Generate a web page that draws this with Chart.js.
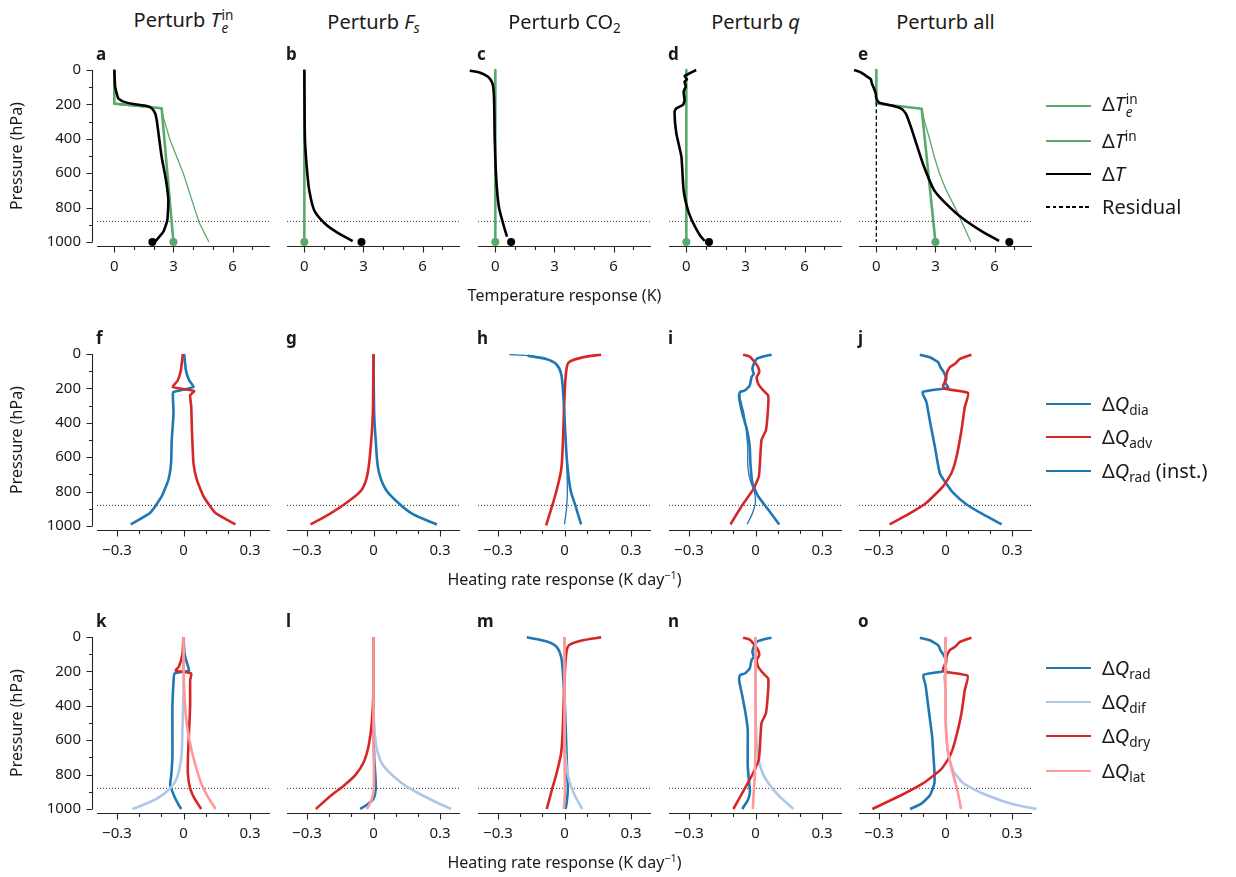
<!DOCTYPE html>
<html><head><meta charset="utf-8">
<script src="https://cdn.jsdelivr.net/npm/chart.js@4/dist/chart.umd.min.js"></script>
<style>
html,body{margin:0;padding:0;background:#fff;}
#root{position:relative;width:1236px;height:877px;overflow:hidden;font-family:"Noto Sans",sans-serif;color:#1a1a1a;}
#root canvas{position:absolute;}
.t{position:absolute;white-space:nowrap;line-height:1;}
.title{font-size:20px;transform:translate(-50%,-50%);}
.letter{font-size:17px;font-weight:bold;transform:translateY(-50%);}
.xlab{font-size:16px;transform:translate(-50%,-50%);}
.ylab{font-size:16px;transform:translate(-50%,-50%) rotate(-90deg);}
.leg{font-size:20px;transform:translateY(-50%);}
.sw{position:absolute;}
sub{font-size:0.68em;vertical-align:-0.28em;line-height:0;}
sup{font-size:0.68em;vertical-align:0.55em;line-height:0;}
.ss{display:inline-block;vertical-align:-0.42em;line-height:0.95;font-size:0.68em;margin-left:1px;}
.ss span{display:block;}
</style></head>
<body><div id="root"></div>
<script>
// ---------------- DATA (pressure in hPa, responses) ----------------
const pressureTicks = [0, 200, 400, 600, 800, 1000];
const tempTicks = [0, 3, 6];
const heatTicks = [-0.3, 0, 0.3];
const tempRange = [-0.88, 7.9];
const heatRange = [-0.39, 0.39];
const refPressure = 880;

// Row 1: temperature response (K)
const aTeP = [0, 200, 223, 300, 407, 500, 601, 700, 780, 888, 1000];
const aTeX = [0, 0, 2.36, 2.55, 2.83, 3.15, 3.5, 3.78, 4.0, 4.31, 4.8];
const aTiP = [0, 195, 222, 1000];
const aTiX = [0, 0, 2.4, 3.0];
const aTP = [0, 97, 165, 184, 198, 209, 223, 252, 291, 368, 504, 640, 756, 872, 940, 998];
const aTX = [0, 0.04, 0.2, 0.46, 0.96, 1.64, 1.9, 2.07, 2.15, 2.24, 2.4, 2.62, 2.74, 2.69, 2.49, 2.07];
const aSurf = [1.93, 3.0]; // ΔT, ΔT^in at surface

const bTiP = [0, 1000];
const bTiX = [0, 0];
const bTP = [0, 200, 400, 500, 600, 700, 815, 888, 940, 995];
const bTX = [0, 0.01, 0.03, 0.08, 0.15, 0.25, 0.5, 1.0, 1.6, 2.45];
const bSurf = [2.9, 0];

const cTiP = [0, 1000];
const cTiX = [0, 0];
const cTP = [0, 4, 14, 39, 77, 155, 407, 640, 795, 891, 969];
const cTX = [-1.66, -1.3, -0.8, -0.37, -0.15, -0.07, -0.03, 0.05, 0.18, 0.39, 0.59];
const cSurf = [0.8, 0];

const dTiP = [0, 1000];
const dTiX = [0, 0];
const dTP = [0, 19, 35, 54, 68, 97, 126, 174, 203, 223, 242, 368, 504, 698, 814, 888, 959, 994];
const dTX = [0.5, 0.17, -0.09, 0.03, -0.09, -0.03, -0.14, -0.09, -0.17, -0.51, -0.6, -0.51, -0.25, -0.14, 0.08, 0.34, 0.68, 0.93];
const dSurf = [1.15, 0];

const eTeP = [0, 195, 225, 300, 400, 500, 600, 700, 800, 900, 1000];
const eTeX = [0, 0, 2.3, 2.45, 2.7, 2.93, 3.2, 3.55, 4.0, 4.4, 4.8];
const eTiP = [0, 195, 225, 1000];
const eTiX = [0, 0, 2.3, 3.0];
const eTP = [0, 14, 39, 54, 78, 107, 136, 165, 190, 203, 223, 252, 329, 446, 562, 698, 775, 862, 940, 994];
const eTX = [-1.13, -0.79, -0.46, -0.28, -0.23, -0.12, -0.03, 0, 0.14, 0.64, 1.24, 1.49, 1.75, 2.08, 2.42, 2.93, 3.52, 4.37, 5.38, 6.23];
const eResP = [190, 1000];
const eResX = [0, 0];
const eSurf = [6.75, 3.0];

// Row 2: heating rate response (K/day): diabatic, advective, instantaneous radiative
const fDiaP = [0, 96, 154, 192, 221, 240, 346, 500, 635, 731, 827, 923, 991];
const fDiaX = [0.003, 0.011, 0.026, 0.045, -0.045, -0.048, -0.045, -0.053, -0.056, -0.068, -0.098, -0.15, -0.238];
const fAdvP = [0, 96, 154, 192, 216, 240, 308, 443, 635, 731, 827, 923, 991];
const fAdvX = [-0.003, -0.012, -0.026, -0.048, 0.048, 0.03, 0.035, 0.038, 0.045, 0.06, 0.09, 0.143, 0.234];

const gDiaP = [0, 346, 500, 673, 789, 875, 933, 991];
const gDiaX = [0, 0.003, 0.01, 0.022, 0.056, 0.12, 0.18, 0.286];
const gAdvP = [0, 346, 500, 692, 789, 865, 929, 991];
const gAdvX = [0, -0.003, -0.01, -0.026, -0.053, -0.122, -0.197, -0.284];

const hDiaP = [10, 29, 58, 116, 250, 443, 635, 789, 885, 991];
const hDiaX = [-0.166, -0.083, -0.038, -0.015, -0.005, 0.003, 0.012, 0.027, 0.05, 0.075];
const hAdvP = [4, 19, 48, 96, 250, 539, 673, 789, 885, 996];
const hAdvX = [0.165, 0.083, 0.02, 0.008, 0, -0.008, -0.015, -0.035, -0.056, -0.083];
const hRadP = [4, 10, 29, 58, 116, 250, 443, 635, 789, 885, 990];
const hRadX = [-0.249, -0.166, -0.083, -0.038, -0.015, -0.005, 0.003, 0.01, 0.013, 0.01, 0];

const iDiaP = [4, 15, 29, 58, 87, 116, 135, 183, 212, 221, 250, 346, 443, 539, 635, 750, 827, 904, 991];
const iDiaX = [0.072, 0.035, 0.005, -0.008, -0.014, -0.008, -0.018, -0.026, -0.048, -0.07, -0.074, -0.059, -0.038, -0.026, -0.023, -0.014, 0.012, 0.057, 0.107];
const iAdvP = [4, 15, 48, 77, 106, 135, 173, 212, 240, 308, 443, 500, 635, 712, 789, 885, 991];
const iAdvX = [-0.056, -0.026, -0.003, 0.012, 0.017, 0.005, 0.012, 0.035, 0.057, 0.057, 0.047, 0.027, 0.02, 0.015, -0.011, -0.063, -0.113];
const iRadP = [4, 15, 29, 58, 87, 116, 135, 183, 212, 221, 250, 346, 443, 539, 635, 700, 750, 800, 860, 930, 990];
const iRadX = [0.072, 0.035, 0.005, -0.008, -0.014, -0.008, -0.018, -0.026, -0.048, -0.07, -0.07, -0.052, -0.042, -0.035, -0.035, -0.03, -0.02, -0.005, 0.0, -0.015, -0.038];

const jDiaP = [4, 19, 48, 77, 106, 135, 164, 196, 221, 279, 385, 539, 692, 741, 808, 875, 933, 991];
const jDiaX = [-0.116, -0.071, -0.033, -0.023, -0.008, 0.001, -0.003, 0.012, -0.104, -0.086, -0.071, -0.048, -0.026, -0.003, 0.035, 0.095, 0.17, 0.253];
const jAdvP = [4, 29, 58, 77, 116, 154, 183, 202, 227, 308, 443, 596, 692, 770, 865, 933, 991];
const jAdvX = [0.117, 0.065, 0.042, 0.019, 0.005, 0.002, -0.011, -0.003, 0.102, 0.087, 0.072, 0.05, 0.027, -0.011, -0.086, -0.169, -0.252];

// Row 3: radiative, diffusive, dry, latent heating responses (K/day)
const kRadP = [0, 100, 170, 195, 212, 260, 400, 550, 700, 800, 860, 930, 980, 1000];
const kRadX = [0, 0.005, 0.02, 0.025, -0.04, -0.045, -0.05, -0.05, -0.05, -0.055, -0.06, -0.04, -0.02, -0.01];
const kDifP = [0, 300, 550, 700, 820, 880, 940, 975, 1000];
const kDifX = [0, 0, -0.005, -0.01, -0.03, -0.06, -0.12, -0.18, -0.23];
const kDryP = [0, 100, 170, 195, 212, 250, 400, 550, 700, 800, 880, 940, 1000];
const kDryX = [0, -0.005, -0.02, -0.035, 0.035, 0.03, 0.03, 0.025, 0.02, 0.02, 0.03, 0.05, 0.08];
const kLatP = [0, 150, 300, 450, 550, 650, 750, 850, 930, 1000];
const kLatX = [0, 0, 0.003, 0.01, 0.02, 0.035, 0.055, 0.08, 0.11, 0.145];

const lRadP = [0, 500, 700, 800, 880, 940, 975, 1000];
const lRadX = [0, 0, 0.003, 0.008, 0.01, 0.0, -0.03, -0.06];
const lDifP = [0, 400, 550, 650, 740, 810, 870, 920, 965, 1000];
const lDifX = [0, 0, 0.005, 0.015, 0.04, 0.09, 0.15, 0.22, 0.29, 0.35];
const lDryP = [0, 300, 450, 550, 650, 730, 800, 860, 920, 1000];
const lDryX = [0, 0, -0.005, -0.012, -0.025, -0.045, -0.08, -0.13, -0.19, -0.26];
const lLatP = [0, 600, 800, 900, 950, 1000];
const lLatX = [0, 0, 0.002, 0, -0.01, -0.03];

const mRadP = [2, 25, 55, 116, 250, 443, 635, 789, 885, 960, 1000];
const mRadX = [-0.17, -0.083, -0.038, -0.015, -0.005, 0.003, 0.008, 0.012, 0.015, 0.01, 0.005];
const mDifP = [0, 550, 700, 800, 870, 930, 1000];
const mDifX = [0, 0, 0.005, 0.015, 0.03, 0.05, 0.08];
const mDryP = [2, 19, 48, 96, 250, 539, 673, 789, 885, 1000];
const mDryX = [0.165, 0.083, 0.02, 0.008, 0, -0.008, -0.015, -0.035, -0.056, -0.08];
const mLatP = [0, 700, 900, 1000];
const mLatX = [0, 0, 0.002, -0.003];

const nRadP = [4, 15, 29, 58, 87, 116, 135, 183, 212, 221, 250, 346, 443, 539, 635, 750, 830, 900, 950, 1000];
const nRadX = [0.072, 0.035, 0.005, -0.008, -0.014, -0.008, -0.018, -0.026, -0.048, -0.07, -0.074, -0.059, -0.045, -0.035, -0.035, -0.035, -0.03, -0.025, -0.035, -0.06];
const nDifP = [0, 400, 600, 720, 800, 870, 930, 975, 1000];
const nDifX = [0, 0, 0.005, 0.015, 0.035, 0.07, 0.11, 0.15, 0.17];
const nDryP = [4, 15, 48, 77, 106, 135, 173, 212, 240, 308, 443, 500, 635, 712, 789, 885, 1000];
const nDryX = [-0.056, -0.026, -0.003, 0.012, 0.017, 0.005, 0.012, 0.035, 0.057, 0.057, 0.047, 0.027, 0.02, 0.015, -0.01, -0.05, -0.1];
const nLatP = [0, 600, 800, 900, 1000];
const nLatX = [0, 0, -0.003, -0.008, -0.012];

const oRadP = [4, 19, 48, 77, 106, 135, 164, 196, 221, 280, 380, 480, 580, 680, 780, 850, 920, 970, 1000];
const oRadX = [-0.116, -0.071, -0.033, -0.023, -0.008, 0.001, -0.003, 0.0, -0.1, -0.09, -0.08, -0.07, -0.06, -0.055, -0.05, -0.05, -0.07, -0.11, -0.16];
const oDifP = [0, 180, 205, 225, 300, 450, 600, 700, 780, 850, 900, 950, 980, 1000];
const oDifX = [0, 0, 0.01, -0.005, 0, 0, 0.005, 0.015, 0.035, 0.08, 0.15, 0.25, 0.33, 0.41];
const oDryP = [4, 29, 58, 77, 116, 154, 183, 202, 225, 308, 443, 596, 692, 770, 850, 920, 1000];
const oDryX = [0.117, 0.065, 0.042, 0.019, 0.005, 0.002, -0.011, -0.003, 0.1, 0.087, 0.072, 0.045, 0.02, -0.02, -0.1, -0.2, -0.33];
const oLatP = [0, 400, 550, 650, 750, 850, 930, 1000];
const oLatX = [0, 0, 0.003, 0.01, 0.025, 0.045, 0.06, 0.07];

// ---------------- STYLE / LAYOUT ----------------
const GREEN = '#5aa96a', BLUE = '#1f77b4', RED = '#d62728', LBLUE = '#aec7e8', PINK = '#ff9896', BLACK = '#000';
const THICK = 2.6, THIN = 1.3;
const COL_L = [97, 287, 478, 669, 859];
const ROW_T = [70, 354, 637];
const PW = 173, PH = 172;
const FONT = '"Noto Sans", sans-serif';
Chart.defaults.font.family = FONT;
Chart.defaults.color = '#1a1a1a';

function pts(P, X) { return P.map((p, i) => ({x: X[i], y: p})); }
function ln(P, X, color, w, extra) {
  return Object.assign({data: pts(P, X), showLine: true, borderColor: color, backgroundColor: color,
    borderWidth: w, pointRadius: 0, tension: 0.3, clip: false, borderCapStyle: 'butt', borderJoinStyle: 'round'}, extra || {});
}
function dot(x, color) {
  return {data: [{x: x, y: 1000}], showLine: false, pointRadius: 4, pointBackgroundColor: color,
    backgroundColor: color, borderWidth: 0, pointBorderWidth: 0, clip: false};
}
function refLine(r) {
  return {data: [{x: r[0], y: refPressure}, {x: r[1], y: refPressure}], showLine: true, borderColor: '#333',
    borderWidth: 1, borderDash: [1, 2], pointRadius: 0, clip: false, tension: 0};
}

const spinePlugin = {
  id: 'spines',
  afterDatasetsDraw(chart, args, o) {
    const ctx = chart.ctx, ca = chart.chartArea, xs = chart.scales.x, ys = chart.scales.y;
    ctx.save();
    ctx.strokeStyle = '#262626';
    ctx.lineWidth = 1.1;
    ctx.beginPath();
    const yb = Math.round(ca.bottom + 4) + 0.5;
    ctx.moveTo(ca.left, yb); ctx.lineTo(ca.right, yb);
    o.xMajor.forEach(v => { const px = Math.round(xs.getPixelForValue(v)) + 0.5; ctx.moveTo(px, yb); ctx.lineTo(px, yb + 6); });
    o.xMinor.forEach(v => { const px = Math.round(xs.getPixelForValue(v)) + 0.5; ctx.moveTo(px, yb); ctx.lineTo(px, yb + 3.5); });
    if (o.showY) {
      const xl = Math.round(ca.left - 4) - 0.5;
      ctx.moveTo(xl, ys.getPixelForValue(0)); ctx.lineTo(xl, ys.getPixelForValue(1000));
      for (let p = 0; p <= 1000; p += 100) {
        const py = Math.round(ys.getPixelForValue(p)) + 0.5;
        ctx.moveTo(xl, py); ctx.lineTo(xl - (p % 200 === 0 ? 6 : 3.5), py);
      }
    }
    ctx.stroke();
    ctx.restore();
  }
};

function fmtHeat(v) { return v === 0 ? '0' : (v < 0 ? '\u2212' : '') + Math.abs(v).toFixed(1); }

function buildConfig(spec) {
  const row = spec.row, showY = spec.col === 0;
  const xr = row === 0 ? tempRange : heatRange;
  const xt = row === 0 ? tempTicks : heatTicks;
  const minor = row === 0 ? [1, 2, 4, 5, 7] : [-0.2, -0.1, 0.1, 0.2];
  const ds = [refLine(xr)].concat(spec.datasets).reverse();
  return {
    type: 'scatter',
    data: {datasets: ds},
    options: {
      responsive: false, maintainAspectRatio: false, animation: false, events: [],
      layout: {padding: {left: showY ? 4 : 30, right: 16, top: 16, bottom: 4}},
      plugins: {legend: {display: false}, tooltip: {enabled: false}, spines: {showY: showY, xMajor: xt, xMinor: minor}},
      scales: {
        x: {type: 'linear', position: 'bottom', min: xr[0], max: xr[1],
          grid: {display: false, drawTicks: false}, border: {display: false},
          afterBuildTicks: s => { s.ticks = xt.map(v => ({value: v})); },
          afterFit: s => { s.height = 36; },
          ticks: {autoSkip: false, maxRotation: 0, padding: 16, color: '#1a1a1a', font: {size: 15, family: FONT},
            callback: v => row === 0 ? String(v) : fmtHeat(v)}},
        y: {type: 'linear', position: 'left', reverse: true, min: 0, max: 1000, display: showY,
          grid: {display: false, drawTicks: false}, border: {display: false},
          afterBuildTicks: s => { s.ticks = pressureTicks.map(v => ({value: v})); },
          afterFit: s => { s.width = 70; },
          ticks: {autoSkip: false, padding: 16, color: '#1a1a1a', font: {size: 15, family: FONT},
            callback: v => String(v)}}
      }
    },
    plugins: [spinePlugin]
  };
}

const root = document.getElementById('root');
function makeCanvas(w, h) {
  const c = document.createElement('canvas');
  c.width = w; c.height = h;
  c.style.width = w + 'px'; c.style.height = h + 'px';
  root.appendChild(c);
  return c;
}
function makePanel(spec) {
  const w0 = PW + 130, h0 = PH + 80;
  const c0 = makeCanvas(w0, h0);
  const ch0 = new Chart(c0, buildConfig(spec));
  const a = ch0.chartArea;
  const dw = w0 - (a.right - a.left), dh = h0 - (a.bottom - a.top);
  const offL = a.left, offT = a.top;
  ch0.destroy(); c0.remove();
  const L = COL_L[spec.col], T = ROW_T[spec.row];
  const c = makeCanvas(Math.round(PW + dw), Math.round(PH + dh));
  c.style.left = Math.round(L - offL) + 'px';
  c.style.top = Math.round(T - offT) + 'px';
  new Chart(c, buildConfig(spec));
}

const panels = [
  {row: 0, col: 0, datasets: [ln(aTeP, aTeX, GREEN, THIN, {tension: 0}), ln(aTiP, aTiX, GREEN, THICK, {tension: 0}), ln(aTP, aTX, BLACK, THICK, {tension: 0.15}), dot(aSurf[1], GREEN), dot(aSurf[0], BLACK)]},
  {row: 0, col: 1, datasets: [ln(bTiP, bTiX, GREEN, THICK, {tension: 0}), ln(bTP, bTX, BLACK, THICK), dot(bSurf[1], GREEN), dot(bSurf[0], BLACK)]},
  {row: 0, col: 2, datasets: [ln(cTiP, cTiX, GREEN, THICK, {tension: 0}), ln(cTP, cTX, BLACK, THICK), dot(cSurf[1], GREEN), dot(cSurf[0], BLACK)]},
  {row: 0, col: 3, datasets: [ln(dTiP, dTiX, GREEN, THICK, {tension: 0}), ln(dTP, dTX, BLACK, THICK, {tension: 0.15}), dot(dSurf[1], GREEN), dot(dSurf[0], BLACK)]},
  {row: 0, col: 4, datasets: [ln(eTeP, eTeX, GREEN, THIN, {tension: 0}), ln(eTiP, eTiX, GREEN, THICK, {tension: 0}), ln(eTP, eTX, BLACK, THICK, {tension: 0.2}), ln(eResP, eResX, BLACK, THIN, {borderDash: [4, 2.5], tension: 0}), dot(eSurf[1], GREEN), dot(eSurf[0], BLACK)]},
  {row: 1, col: 0, datasets: [ln(fDiaP, fDiaX, BLUE, THICK, {tension: 0.15}), ln(fAdvP, fAdvX, RED, THICK, {tension: 0.15})]},
  {row: 1, col: 1, datasets: [ln(gDiaP, gDiaX, BLUE, THICK), ln(gAdvP, gAdvX, RED, THICK)]},
  {row: 1, col: 2, datasets: [ln(hDiaP, hDiaX, BLUE, THICK), ln(hAdvP, hAdvX, RED, THICK), ln(hRadP, hRadX, BLUE, THIN)]},
  {row: 1, col: 3, datasets: [ln(iDiaP, iDiaX, BLUE, THICK, {tension: 0.15}), ln(iAdvP, iAdvX, RED, THICK, {tension: 0.15}), ln(iRadP, iRadX, BLUE, THIN, {tension: 0.15})]},
  {row: 1, col: 4, datasets: [ln(jDiaP, jDiaX, BLUE, THICK, {tension: 0.15}), ln(jAdvP, jAdvX, RED, THICK, {tension: 0.15})]},
  {row: 2, col: 0, datasets: [ln(kRadP, kRadX, BLUE, THICK, {tension: 0.15}), ln(kDifP, kDifX, LBLUE, THICK), ln(kDryP, kDryX, RED, THICK, {tension: 0.15}), ln(kLatP, kLatX, PINK, THICK)]},
  {row: 2, col: 1, datasets: [ln(lRadP, lRadX, BLUE, THICK), ln(lDifP, lDifX, LBLUE, THICK), ln(lDryP, lDryX, RED, THICK), ln(lLatP, lLatX, PINK, THICK)]},
  {row: 2, col: 2, datasets: [ln(mRadP, mRadX, BLUE, THICK), ln(mDifP, mDifX, LBLUE, THICK), ln(mDryP, mDryX, RED, THICK), ln(mLatP, mLatX, PINK, THICK)]},
  {row: 2, col: 3, datasets: [ln(nRadP, nRadX, BLUE, THICK, {tension: 0.15}), ln(nDifP, nDifX, LBLUE, THICK), ln(nDryP, nDryX, RED, THICK, {tension: 0.15}), ln(nLatP, nLatX, PINK, THICK)]},
  {row: 2, col: 4, datasets: [ln(oRadP, oRadX, BLUE, THICK, {tension: 0.15}), ln(oDifP, oDifX, LBLUE, THICK, {tension: 0.15}), ln(oDryP, oDryX, RED, THICK, {tension: 0.15}), ln(oLatP, oLatX, PINK, THICK)]}
];
panels.forEach(makePanel);

// ---------------- TEXT ----------------
function addText(cls, html, x, y) {
  const d = document.createElement('div');
  d.className = 't ' + cls;
  d.innerHTML = html;
  d.style.left = x + 'px'; d.style.top = y + 'px';
  root.appendChild(d);
  return d;
}
const colTitles = [
  'Perturb <i>T</i><span class="ss"><span>in</span><span><i>e</i></span></span>',
  'Perturb <i>F</i><sub><i>s</i></sub>',
  'Perturb CO<sub>2</sub>',
  'Perturb <i>q</i>',
  'Perturb all'
];
colTitles.forEach((t, i) => addText('title', t, COL_L[i] + PW / 2, 22));
const letters = 'abcdefghijklmno';
for (let r = 0; r < 3; r++) for (let c = 0; c < 5; c++) addText('letter', letters[r * 5 + c], COL_L[c] - 1, ROW_T[r] - 17);
for (let r = 0; r < 3; r++) addText('ylab', 'Pressure (hPa)', 16, ROW_T[r] + PH / 2);
addText('xlab', 'Temperature response (K)', COL_L[2] + PW / 2, 295);
addText('xlab', 'Heating rate response (K day<sup>\u22121</sup>)', COL_L[2] + PW / 2, 579);
addText('xlab', 'Heating rate response (K day<sup>\u22121</sup>)', COL_L[2] + PW / 2, 862);

function legendItem(y, html, color, w, dashed) {
  const s = document.createElement('div');
  s.className = 'sw';
  s.style.left = '1046px'; s.style.width = '45px';
  s.style.top = (y - w / 2) + 'px'; s.style.height = w + 'px';
  s.style.background = dashed ? 'repeating-linear-gradient(to right,' + color + ' 0 4px,transparent 4px 6.5px)' : color;
  root.appendChild(s);
  addText('leg', html, 1102, y);
}
legendItem(106, '\u0394<i>T</i><span class="ss"><span>in</span><span><i>e</i></span></span>', GREEN, THIN);
legendItem(141, '\u0394<i>T</i><sup>in</sup>', GREEN, THICK);
legendItem(174, '\u0394<i>T</i>', BLACK, THICK);
legendItem(207, 'Residual', BLACK, 1.4, true);
legendItem(404, '\u0394<i>Q</i><sub>dia</sub>', BLUE, THICK);
legendItem(437, '\u0394<i>Q</i><sub>adv</sub>', RED, THICK);
legendItem(471, '\u0394<i>Q</i><sub>rad</sub> (inst.)', BLUE, THIN);
legendItem(668, '\u0394<i>Q</i><sub>rad</sub>', BLUE, THICK);
legendItem(702, '\u0394<i>Q</i><sub>dif</sub>', LBLUE, THICK);
legendItem(736, '\u0394<i>Q</i><sub>dry</sub>', RED, THICK);
legendItem(771, '\u0394<i>Q</i><sub>lat</sub>', PINK, THICK);
</script>
</body></html>
